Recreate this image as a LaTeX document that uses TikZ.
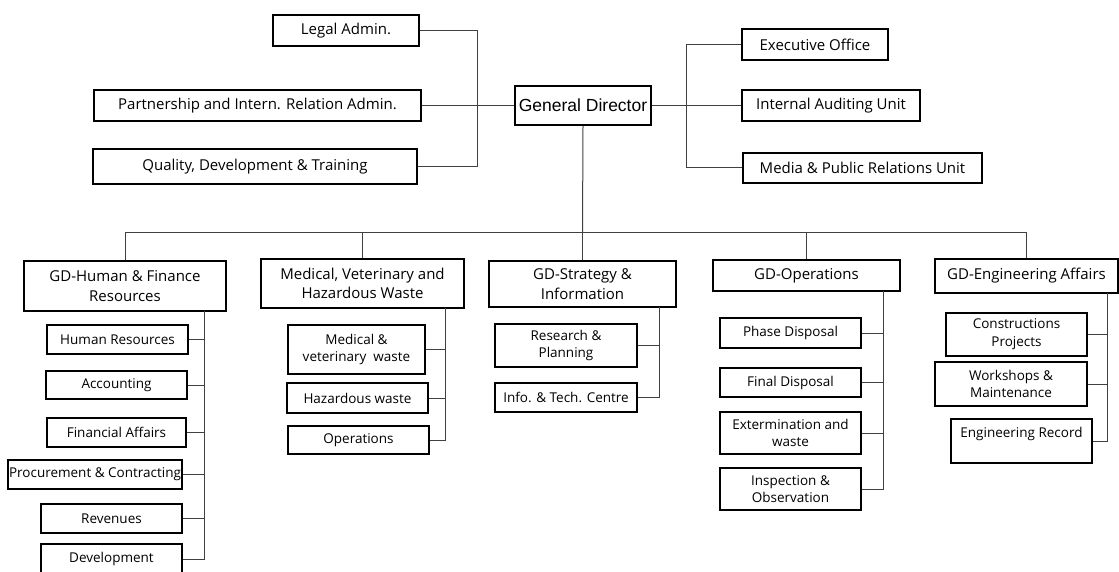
\documentclass[tikz,border=0pt]{standalone}
\usepackage{fontspec}
\setmainfont{Open Sans}
\newfontfamily\gdfont{Liberation Sans}

\tikzset{
  box/.style={draw, line width=2.4pt, inner sep=0pt, align=center},
  topbox/.style={box, font=\fontsize{15}{19.3}\selectfont},
  subbox/.style={box, font=\fontsize{13.5}{17.7}\selectfont},
  link/.style={line width=1pt, black!75}
}

\begin{document}
\begin{tikzpicture}[x=1pt, y=-1pt]
        \useasboundingbox (0,0) rectangle (1119,572);

        % --- GENERAL DIRECTOR AND STAFF UNITS ---
        \node[box, font=\gdfont\fontsize{17.5}{20}\selectfont, minimum width=136, minimum height=39] (gd) at (583,105.5) {General Director};

        \node[topbox, minimum width=146, minimum height=31] (legal) at (346,30.5) {Legal Admin.};
        \node[topbox, minimum width=327, minimum height=31] (partner) at (257.5,105.5) {Partnership and Intern. Relation Admin.};
        \node[topbox, minimum width=324, minimum height=35] (quality) at (255,166.5) {Quality, Development \& Training};

        \node[topbox, minimum width=146, minimum height=31] (exec) at (815,44.5) {Executive Office};
        \node[topbox, minimum width=178, minimum height=31] (audit) at (831,105.5) {Internal Auditing Unit};
        \node[topbox, minimum width=239, minimum height=30] (media) at (862.5,168) {Media \& Public Relations Unit};

        % left and right buses
        \coordinate (lbus) at (477,105.5);
        \coordinate (rbus) at (686,105.5);
        \draw[link] (legal.east) -| (lbus) -- (gd.west);
        \draw[link] (quality.east) -| (lbus);
        \draw[link] (partner.east) -- (lbus);
        \draw[link] (exec.west) -| (rbus) -- (gd.east);
        \draw[link] (media.west) -| (rbus);
        \draw[link] (audit.west) -- (rbus);

        % --- GENERAL DEPARTMENTS ---
        \node[topbox, minimum width=202, minimum height=50] (hr) at (125,286) {GD-Human \& Finance\\Resources};
        \node[topbox, minimum width=203, minimum height=49] (med) at (362.5,283.5) {Medical, Veterinary and\\Hazardous Waste};
        \node[topbox, minimum width=187, minimum height=46] (strat) at (582.5,284) {GD-Strategy \&\\Information};
        \node[topbox, minimum width=187, minimum height=31] (ops) at (806.5,275.5) {GD-Operations};
        \node[topbox, minimum width=183, minimum height=34] (eng) at (1026.5,276) {GD-Engineering Affairs};

        % main bus
        \coordinate (trunk) at (582.5,233);
        \draw[link] (gd.south) -- (trunk);
        \draw[link] (hr.north) |- (trunk);
        \draw[link] (eng.north) |- (trunk);
        \draw[link] (med.north) -- (med.north |- trunk);
        \draw[link] (strat.north) -- (trunk);
        \draw[link] (ops.north) -- (ops.north |- trunk);

        % --- HUMAN & FINANCE UNITS ---
        \node[subbox, minimum width=141, minimum height=29] (hres) at (117.5,339.5) {Human Resources};
        \node[subbox, minimum width=141, minimum height=28] (acct) at (116.5,385) {Accounting};
        \node[subbox, minimum width=139, minimum height=29] (fin) at (116.5,432.5) {Financial Affairs};
        \node[subbox, minimum width=174, minimum height=29] (proc) at (95,474.5) {Procurement \& Contracting};
        \node[subbox, minimum width=141, minimum height=29] (rev) at (111.5,518.5) {Revenues};
        \node[subbox, minimum width=141, minimum height=30] (dev) at (111.5,559) {Development};

        \coordinate (hrb) at (204,311);
        \draw[link] (hrb) |- (dev.east);
        \foreach \u in {hres, acct, fin, proc, rev}
            \draw[link] (\u.east) -- (\u.east -| hrb);

        % --- WASTE UNITS ---
        \node[subbox, minimum width=137, minimum height=49] (medvet) at (356.5,349.5) {Medical \&\\veterinary\ \ waste};
        \node[subbox, minimum width=141, minimum height=30] (haz) at (357.5,398) {Hazardous waste};
        \node[subbox, minimum width=141, minimum height=28] (opsw) at (358.5,440) {Operations};

        \coordinate (medb) at (445,308);
        \draw[link] (medb) |- (opsw.east);
        \foreach \u in {medvet, haz}
            \draw[link] (\u.east) -- (\u.east -| medb);

        % --- STRATEGY UNITS ---
        \node[subbox, minimum width=142, minimum height=43] (resp) at (566,345.5) {Research \&\\Planning};
        \node[subbox, minimum width=142, minimum height=29] (itc) at (566,397.5) {Info. \& Tech. Centre};

        \coordinate (stratb) at (659,307);
        \draw[link] (stratb) |- (itc.east);
        \draw[link] (resp.east) -- (resp.east -| stratb);

        % --- OPERATIONS UNITS ---
        \node[subbox, minimum width=141, minimum height=30] (phase) at (790.5,333) {Phase Disposal};
        \node[subbox, minimum width=141, minimum height=29] (final) at (790.5,382.5) {Final Disposal};
        \node[subbox, minimum width=141, minimum height=42] (exterm) at (790.5,433) {Extermination and\\waste};
        \node[subbox, minimum width=141, minimum height=42] (insp) at (790.5,489) {Inspection \&\\Observation};

        \coordinate (opsb) at (883,291);
        \draw[link] (opsb) |- (insp.east);
        \foreach \u in {phase, final, exterm}
            \draw[link] (\u.east) -- (\u.east -| opsb);

        % --- ENGINEERING UNITS ---
        \node[subbox, minimum width=141, minimum height=43] (constr) at (1016.5,334.5) {Constructions\\Projects};
        \node[subbox, minimum width=152, minimum height=44] (work) at (1011,384) {Workshops \&\\Maintenance};
        \node[subbox, minimum width=141, minimum height=44] (record) at (1021.5,441) {Engineering Record\\\mbox{}};

        \coordinate (engb) at (1107,293);
        \draw[link] (engb) |- (record.east);
        \foreach \u in {constr, work}
            \draw[link] (\u.east) -- (\u.east -| engb);
    \end{tikzpicture}
\end{document}
